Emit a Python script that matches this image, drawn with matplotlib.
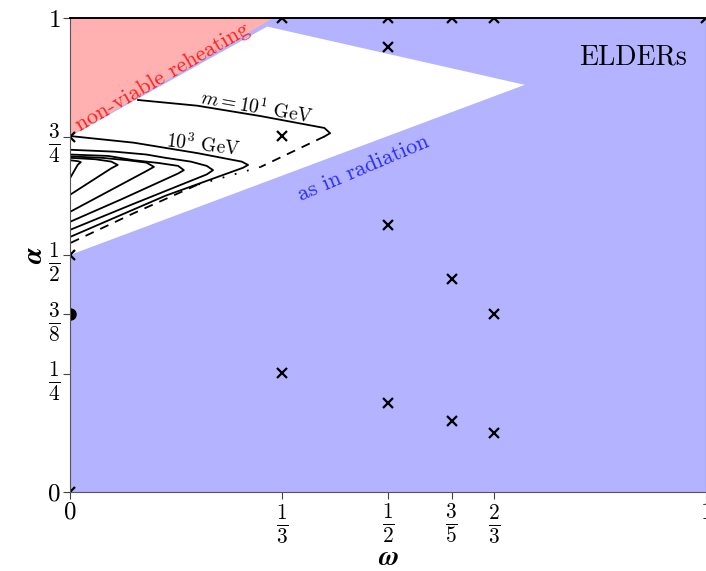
import matplotlib
matplotlib.use("Agg")
import matplotlib.pyplot as plt

plt.rcParams['font.family'] = 'serif'
plt.rcParams['font.serif'] = ['cmr10', 'DejaVu Serif']
plt.rcParams['mathtext.fontset'] = 'cm'
plt.rcParams['axes.unicode_minus'] = False

# tick positions / labels
x_ticks = [0, 1/3, 1/2, 3/5, 2/3, 1]
x_labels = ['$0$', r'$\frac{1}{3}$', r'$\frac{1}{2}$', r'$\frac{3}{5}$', r'$\frac{2}{3}$', '$1$']
y_ticks = [0, 1/4, 3/8, 1/2, 3/4, 1]
y_labels = ['$0$', r'$\frac{1}{4}$', r'$\frac{3}{8}$', r'$\frac{1}{2}$', r'$\frac{3}{4}$', '$1$']

# regions
red_w = [0, 0.32, 0]
red_a = [0.75, 1.0, 1.0]
white_w = [0, 0.715, 0.31, 0]
white_a = [0.5, 0.859, 0.982, 0.75]

# benchmark points (x markers)
pts_w = [1/3, 1/2, 3/5, 2/3, 1, 1/2, 1/3, 1/2, 3/5, 2/3, 1/3, 1/2, 3/5, 2/3, 0, 0, 0]
pts_a = [1, 1, 1, 1, 1, 0.939, 0.751, 0.563, 0.449, 0.375, 0.251, 0.188, 0.150, 0.124, 0.5, 0.75, 0]
dot_w = [0]
dot_a = [3/8]

# m = 10 GeV contour (omega, alpha)
c10_top_w = [0.107, 0.20, 0.30, 0.40, 0.409, 0.40]
c10_top_a = [0.827, 0.815, 0.793, 0.768, 0.757, 0.750]
c10_dash1_w = [0.40, 0.30]
c10_dash1_a = [0.750, 0.686]
c10_dot_w = [0.30, 0.20]
c10_dot_a = [0.686, 0.648]
c10_dash2_w = [0.20, 0.10, 0.0]
c10_dash2_a = [0.648, 0.588, 0.525]

contours = {
    '1e3': ([0, 0.10, 0.20, 0.27, 0.280, 0.272, 0.15, 0],
            [0.751, 0.737, 0.715, 0.697, 0.690, 0.684, 0.625, 0.538]),
    'b': ([0, 0.07, 0.12, 0.15, 0.19, 0.215, 0.225, 0.215, 0.10, 0],
          [0.722, 0.718, 0.712, 0.705, 0.697, 0.688, 0.679, 0.670, 0.608, 0.553]),
    'c': ([0, 0.06, 0.10, 0.14, 0.17, 0.179, 0.17, 0.08, 0],
          [0.712, 0.709, 0.700, 0.694, 0.688, 0.679, 0.672, 0.617, 0.570]),
    'd': ([0, 0.05, 0.09, 0.12, 0.132, 0.12, 0],
          [0.708, 0.705, 0.700, 0.695, 0.686, 0.677, 0.591]),
    'e': ([0, 0.04, 0.065, 0.075, 0.065, 0],
          [0.705, 0.702, 0.697, 0.690, 0.683, 0.627]),
    'f': ([0, 0.012, 0.017, 0.012, 0],
          [0.700, 0.698, 0.696, 0.690, 0.662]),
}

fig = plt.figure(figsize=(7.06, 5.71), dpi=100)
ax = fig.add_axes([70/706, 79/571, 636/706, 474/571])
ax.set_xlim(0, 1)
ax.set_ylim(0, 1)
ax.set_facecolor('#b3b3ff')

ax.fill(red_w, red_a, color='#ffb0b0', lw=0)
ax.fill(white_w, white_a, color='white', lw=0)

for name, (w, a) in contours.items():
    ax.plot(w, a, color='black', lw=1.3)
ax.plot(c10_top_w, c10_top_a, color='black', lw=1.3)
ax.plot(c10_dash1_w, c10_dash1_a, color='black', lw=1.3, ls=(0, (5, 4)))
ax.plot(c10_dot_w, c10_dot_a, color='black', lw=1.3, ls=(0, (1, 6)))
ax.plot(c10_dash2_w, c10_dash2_a, color='black', lw=1.3, ls=(0, (5, 4)))

ax.plot(pts_w, pts_a, 'x', color='black', ms=7, mew=1.6)
ax.plot(dot_w, dot_a, 'o', color='black', ms=8)

ax.text(0.146, 0.876, 'non-viable reheating', color='#ff2020', fontsize=16,
        rotation=30, ha='center', va='center')
ax.text(0.294, 0.812, r'$m = 10^1$ GeV', fontsize=14, rotation=-10,
        ha='center', va='center')
ax.text(0.209, 0.732, r'$10^3$ GeV', fontsize=14, rotation=-7,
        ha='center', va='center')
ax.text(0.462, 0.684, 'as in radiation', color='#2a2aff', fontsize=16,
        rotation=23, ha='center', va='center')
ax.text(0.885, 0.918, 'ELDERs', fontsize=20, ha='center', va='center')

ax.set_xticks(x_ticks)
ax.set_xticklabels(x_labels)
ax.set_yticks(y_ticks)
ax.set_yticklabels(y_labels)
for lab in ax.get_xticklabels() + ax.get_yticklabels():
    if 'frac' in lab.get_text():
        lab.set_fontsize(22)
    else:
        lab.set_fontsize(18)
ax.tick_params(direction='out', length=5, color='#444444', pad=2)

ax.set_xlabel(r'$\boldsymbol{\omega}$', fontsize=20, va='center')
ax.set_ylabel(r'$\boldsymbol{\alpha}$', fontsize=20, va='center')
ax.xaxis.set_label_coords(318/636, -66/474)
ax.yaxis.set_label_coords(-35/636, 0.5)

for s in ['left', 'bottom', 'right']:
    ax.spines[s].set_color('#555555')
ax.spines['top'].set_color('black')
ax.spines['top'].set_linewidth(1.4)

fig.savefig('out.png', dpi=100)
